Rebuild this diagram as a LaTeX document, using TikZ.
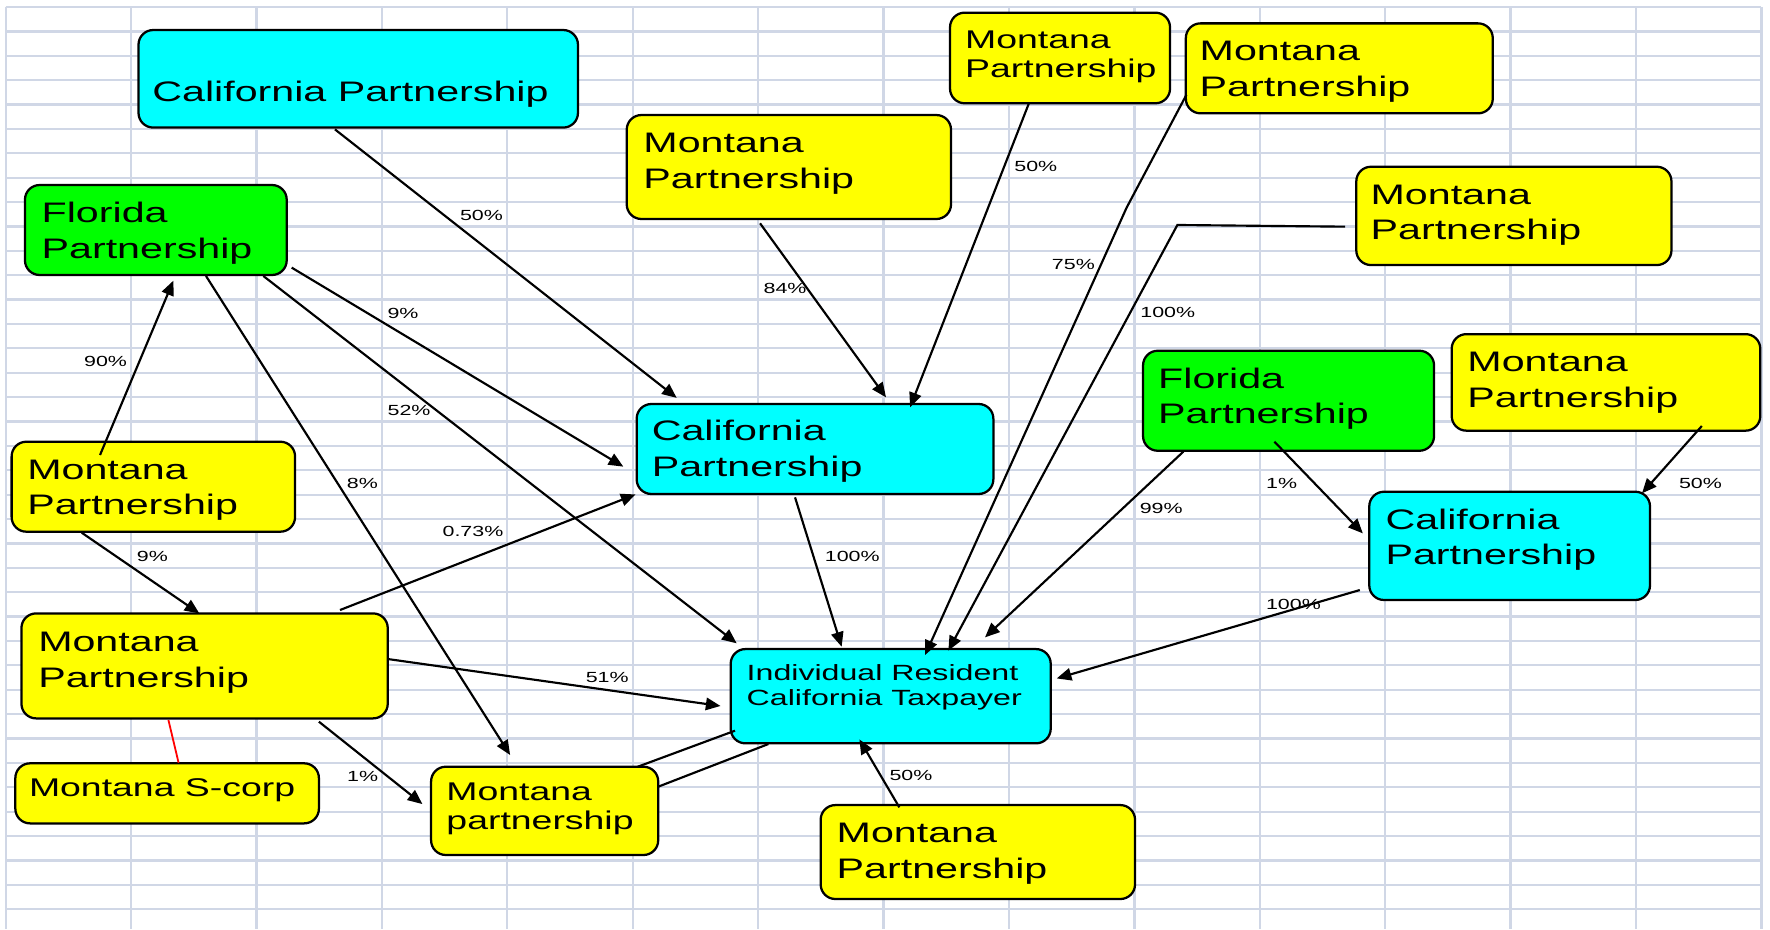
\documentclass[tikz,border=0pt]{standalone}
\usepackage{fontspec}
\setmainfont{Liberation Sans}[FakeStretch=1.46]
\usetikzlibrary{arrows.meta}
\definecolor{gridline}{RGB}{208,215,230}
\definecolor{boxcyan}{RGB}{0,255,255}
\definecolor{boxyellow}{RGB}{255,255,0}
\definecolor{boxgreen}{RGB}{0,255,0}
\definecolor{tiered}{RGB}{255,0,0}
\newcommand\bigfont{\fontsize{25}{31.5}\selectfont}
\newcommand\smallfont{\fontsize{22.7}{26}\selectfont}
\newcommand\taxfont{\fontsize{19.5}{23}\selectfont}
\newcommand\labfont{\fontsize{13}{15}\selectfont}
\newcommand\lstrut{\rule{0pt}{0.8em}}

\begin{document}
\begin{tikzpicture}[x=1pt,y=-1pt,
  entity/.style={draw=black, line width=2pt, rounded corners=13pt,
    anchor=north west, inner sep=0pt, outer sep=0pt},
  caption/.style={anchor=north west, inner sep=0pt, outer sep=0pt,
    align=left, text=black},
  share/.style={inner sep=0pt, font=\labfont, text=black},
  link/.style={draw=black, line width=1.9pt,
    -{Triangle[length=13pt,width=11pt]}},
  plainlink/.style={draw=black, line width=1.9pt},
]
% sheet and cell grid
\fill[white] (0,0) rectangle (1568,823);
\useasboundingbox (0,0) rectangle (1568,823);
\foreach \i in {0,...,14}
  \draw[gridline, line width=2pt] ({5+111.1*\i},6.2) -- ({5+111.1*\i},823);
\foreach \j in {0,...,37}
  \draw[gridline, line width=2pt] (5,{6.2+21.6*\j}) -- (1560.4,{6.2+21.6*\j});

% entity boxes
\node[entity, fill=boxcyan,   minimum width=389.3pt, minimum height=86.4pt] (ca1)  at (122.7,26.6) {};
\node[entity, fill=boxgreen,  minimum width=231.9pt, minimum height=79.7pt] (fl1)  at (22.1,163.9) {};
\node[entity, fill=boxyellow, minimum width=287.3pt, minimum height=92.1pt] (mtm)  at (555.2,101.9) {};
\node[entity, fill=boxyellow, minimum width=194.9pt, minimum height=80.3pt] (mt4)  at (841.6,11.2) {};
\node[entity, fill=boxyellow, minimum width=271.9pt, minimum height=79.7pt] (mt5)  at (1050.5,20.7) {};
\node[entity, fill=boxyellow, minimum width=279.2pt, minimum height=87.1pt] (mt6)  at (1201.5,147.7) {};
\node[entity, fill=boxgreen,  minimum width=257.8pt, minimum height=88.6pt] (fl2)  at (1012.6,310.7) {};
\node[entity, fill=boxyellow, minimum width=273.4pt, minimum height=85.5pt] (mt8)  at (1286,296) {};
\node[entity, fill=boxcyan,   minimum width=316pt,   minimum height=79.7pt] (ca2)  at (564,357.9) {};
\node[entity, fill=boxcyan,   minimum width=248.7pt, minimum height=95.9pt] (ca3)  at (1213,435.6) {};
\node[entity, fill=boxyellow, minimum width=251.1pt, minimum height=79.7pt] (mt11) at (10.3,391.3) {};
\node[entity, fill=boxyellow, minimum width=324.5pt, minimum height=93pt]   (mt12) at (19,543.4) {};
\node[entity, fill=boxyellow, minimum width=268.9pt, minimum height=53.2pt] (scorp) at (13.6,676.2) {};
\node[entity, fill=boxyellow, minimum width=201.2pt, minimum height=78.2pt] (mt14) at (381.9,679.2) {};
\node[entity, fill=boxcyan,   minimum width=283.5pt, minimum height=83.5pt] (tax)  at (647.3,575) {};
\node[entity, fill=boxyellow, minimum width=278.5pt, minimum height=83.2pt] (mt16) at (727,713.2) {};

% bend points of the two long links
\coordinate (bendA) at (998,184);
\coordinate (bendB) at (1043,199.3);

% ownership links
\draw[link] ([shift={(174,88)}]ca1.north west) -- ([shift={(35.5,-5.4)}]ca2.north west);
\draw[link] ([shift={(118.1,95.9)}]mtm.north west) -- ([shift={(220.9,-5.9)}]ca2.north west);
\draw[link] ([shift={(69.7,80.8)}]mt4.north west) -- ([shift={(242.2,2.9)}]ca2.north west);
\draw[link] ([shift={(0.5,63.3)}]mt5.north west) -- (bendA) -- ([shift={(172.2,5.3)}]tax.north west);
\draw[link] ([shift={(-9.9,53.1)}]mt6.north west) -- (bendB) -- ([shift={(192.8,1.4)}]tax.north west);
\draw[link] ([shift={(35.7,89.4)}]fl2.north west) -- ([shift={(225.3,-10.4)}]tax.north west);
\draw[link] ([shift={(116.4,80.6)}]fl2.north west) -- ([shift={(-5.7,36.9)}]ca3.north west);
\draw[link] ([shift={(221.6,81.4)}]mt8.north west) -- ([shift={(241.6,1.4)}]ca3.north west);
\draw[link] ([shift={(-8.4,87.1)}]ca3.north west) -- ([shift={(288.8,26)}]tax.north west);
\draw[link] ([shift={(140.3,82.7)}]ca2.north west) -- ([shift={(98.3,-2.1)}]tax.north west);
\draw[link] ([shift={(236.3,73.2)}]fl1.north west) -- ([shift={(-11.8,55.5)}]ca2.north west);
\draw[link] ([shift={(211.2,80.6)}]fl1.north west) -- ([shift={(5.3,-5.1)}]tax.north west);
\draw[link] ([shift={(160.4,80.6)}]fl1.north west) -- ([shift={(70,-10.4)}]mt14.north west);
\draw[link] ([shift={(78.3,11.8)}]mt11.north west) -- ([shift={(131.5,84.7)}]fl1.north west);
\draw[link] ([shift={(62.1,80.6)}]mt11.north west) -- ([shift={(157.6,0)}]mt12.north west);
\draw[link] ([shift={(282.2,-3)}]mt12.north west) -- ([shift={(-1,80.1)}]ca2.north west);
\draw[link] ([shift={(324.5,40.4)}]mt12.north west) -- ([shift={(-9,50.4)}]tax.north west);
\draw[link] ([shift={(263.5,95.9)}]mt12.north west) -- ([shift={(-7.7,33.1)}]mt14.north west);
\draw[link] ([shift={(69.7,2)}]mt16.north west) -- ([shift={(114,80)}]tax.north west);
\draw[plainlink] ([shift={(183.1,0)}]mt14.north west) -- ([shift={(3.8,72.3)}]tax.north west);
\draw[plainlink] ([shift={(201.2,17.7)}]mt14.north west) -- ([shift={(33.4,84.1)}]tax.north west);
\draw[draw=tiered, line width=1.6pt] ([shift={(130.2,94.4)}]mt12.north west) -- ([shift={(144.6,-0.5)}]scorp.north west);

% percentages
\node[share] (p1)  at (426.5,191)   {50\%};
\node[share] (p2)  at (695.5,255.7) {84\%};
\node[share] (p3)  at (917.6,147.7) {50\%};
\node[share] (p4)  at (950.9,234.4) {75\%};
\node[share] (p5)  at (1034.5,277)  {100\%};
\node[share] (p6)  at (1028.7,450.3) {99\%};
\node[share] (p7)  at (1135.3,428.2) {1\%};
\node[share] (p8)  at (1506.4,428.2) {50\%};
\node[share] (p9)  at (1145.8,535.4) {100\%};
\node[share] (p10) at (755,493)     {100\%};
\node[share] (p11) at (357,277.3)   {9\%};
\node[share] (p12) at (362.4,363.2) {52\%};
\node[share] (p13) at (321,428.6)   {8\%};
\node[share] (p14) at (93.5,320.4)  {90\%};
\node[share] (p15) at (135,493.2)   {9\%};
\node[share] (p16) at (419,471)     {0.73\%};
\node[share] (p17) at (537.9,600.3) {51\%};
\node[share] (p18) at (321.2,687.4) {1\%};
\node[share] (p19) at (807,686.6)   {50\%};

% box captions
\node[caption, font=\bigfont] (ca1t) at (135,70)      {\lstrut California Partnership};
\node[caption, font=\bigfont] (fl1t) at (36.9,177.3)  {\lstrut Florida\\Partnership};
\node[caption, font=\bigfont] (mtmt) at (570,115.3)   {\lstrut Montana\\Partnership};
\node[caption, font=\smallfont] (mt4t) at (855,24.6)  {\lstrut Montana\\Partnership};
\node[caption, font=\bigfont] (mt5t) at (1062.8,34)   {\lstrut Montana\\Partnership};
\node[caption, font=\bigfont] (mt6t) at (1214.2,161)  {\lstrut Montana\\Partnership};
\node[caption, font=\bigfont] (fl2t) at (1026,323.9)  {\lstrut Florida\\Partnership};
\node[caption, font=\bigfont] (mt8t) at (1300,309.3)  {\lstrut Montana\\Partnership};
\node[caption, font=\bigfont] (ca2t) at (577.4,370.4) {\lstrut California\\Partnership};
\node[caption, font=\bigfont] (ca3t) at (1227.4,448.9) {\lstrut California\\Partnership};
\node[caption, font=\bigfont] (mt11t) at (24.2,404.6) {\lstrut Montana\\Partnership};
\node[caption, font=\bigfont] (mt12t) at (33.9,557.3) {\lstrut Montana\\Partnership};
\node[caption, font=\smallfont] (scorpt) at (25.7,687.6) {\lstrut Montana S-corp};
\node[caption, font=\smallfont] (mt14t) at (395.5,691.1) {\lstrut Montana\\partnership};
\node[caption, font=\taxfont] (taxt) at (661.5,586.8) {\lstrut Individual Resident\\California Taxpayer};
\node[caption, font=\bigfont] (mt16t) at (741.2,726.5) {\lstrut Montana\\Partnership};
\end{tikzpicture}
\end{document}
